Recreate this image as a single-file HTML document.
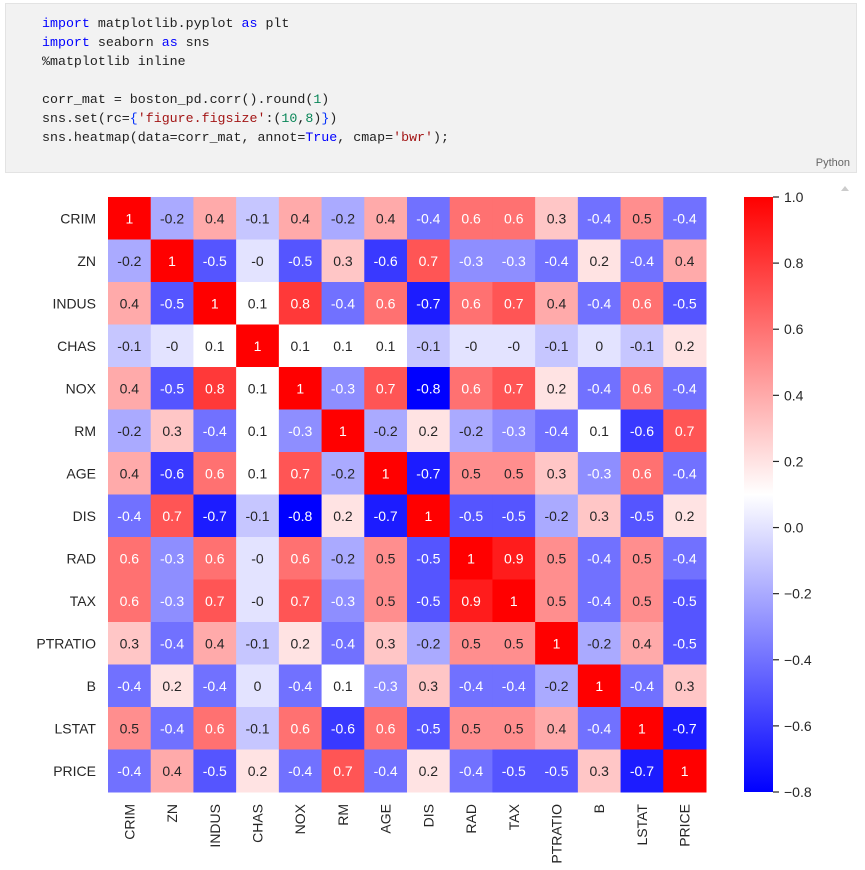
<!DOCTYPE html>
<html><head><meta charset="utf-8"><style>
body{margin:0;width:865px;height:870px;background:#fff;overflow:hidden;font-family:"Liberation Sans",sans-serif}
.code{position:absolute;left:5px;top:3px;width:852px;height:170px;background:#f2f2f2;border:1px solid #e3e3e3;box-sizing:border-box}
pre{position:absolute;left:36px;top:10px;margin:0;font-family:"Liberation Mono",monospace;font-size:13.3px;line-height:19px;color:#222}
.k{color:#0000ff}.s{color:#a31515}.n{color:#098658}.b{color:#0431fa}
.py{position:absolute;right:6px;bottom:3px;font-size:11px;color:#666}
</style></head><body>
<div class="code">
<pre><span class="k">import</span> matplotlib.pyplot <span class="k">as</span> plt
<span class="k">import</span> seaborn <span class="k">as</span> sns
%matplotlib inline

corr_mat = boston_pd.corr().round(<span class="n">1</span>)
sns.set(rc=<span class="b">{</span><span class="s">'figure.figsize'</span>:(<span class="n">10</span>,<span class="n">8</span>)<span class="b">}</span>)
sns.heatmap(data=corr_mat, annot=<span class="k">True</span>, cmap=<span class="s">'bwr'</span>);</pre>
<div class="py">Python</div>
</div>
<svg id="chart" width="865" height="870" style="position:absolute;left:0;top:0">
<defs><linearGradient id="cb" x1="0" y1="1" x2="0" y2="0">
<stop offset="0" stop-color="#0000ff"/><stop offset="0.5" stop-color="#ffffff"/><stop offset="1" stop-color="#ff0000"/></linearGradient></defs>
<polygon points="841,191 845,186 849,191" fill="#ccc"/>
</svg>
<script>
const labels=["CRIM","ZN","INDUS","CHAS","NOX","RM","AGE","DIS","RAD","TAX","PTRATIO","B","LSTAT","PRICE"];
const r0=[1,-0.2,0.4,-0.1,0.4,-0.2,0.4,-0.4,0.6,0.6,0.3,-0.4,0.5,-0.4];
const r1=[-0.2,1,-0.5,-0,-0.5,0.3,-0.6,0.7,-0.3,-0.3,-0.4,0.2,-0.4,0.4];
const r2=[0.4,-0.5,1,0.1,0.8,-0.4,0.6,-0.7,0.6,0.7,0.4,-0.4,0.6,-0.5];
const r3=[-0.1,-0,0.1,1,0.1,0.1,0.1,-0.1,-0,-0,-0.1,0,-0.1,0.2];
const r4=[0.4,-0.5,0.8,0.1,1,-0.3,0.7,-0.8,0.6,0.7,0.2,-0.4,0.6,-0.4];
const r5=[-0.2,0.3,-0.4,0.1,-0.3,1,-0.2,0.2,-0.2,-0.3,-0.4,0.1,-0.6,0.7];
const r6=[0.4,-0.6,0.6,0.1,0.7,-0.2,1,-0.7,0.5,0.5,0.3,-0.3,0.6,-0.4];
const r7=[-0.4,0.7,-0.7,-0.1,-0.8,0.2,-0.7,1,-0.5,-0.5,-0.2,0.3,-0.5,0.2];
const r8=[0.6,-0.3,0.6,-0,0.6,-0.2,0.5,-0.5,1,0.9,0.5,-0.4,0.5,-0.4];
const r9=[0.6,-0.3,0.7,-0,0.7,-0.3,0.5,-0.5,0.9,1,0.5,-0.4,0.5,-0.5];
const r10=[0.3,-0.4,0.4,-0.1,0.2,-0.4,0.3,-0.2,0.5,0.5,1,-0.2,0.4,-0.5];
const r11=[-0.4,0.2,-0.4,0,-0.4,0.1,-0.3,0.3,-0.4,-0.4,-0.2,1,-0.4,0.3];
const r12=[0.5,-0.4,0.6,-0.1,0.6,-0.6,0.6,-0.5,0.5,0.5,0.4,-0.4,1,-0.7];
const r13=[-0.4,0.4,-0.5,0.2,-0.4,0.7,-0.4,0.2,-0.4,-0.5,-0.5,0.3,-0.7,1];
const rows=[r0,r1,r2,r3,r4,r5,r6,r7,r8,r9,r10,r11,r12,r13];
const cbTicks=[1.0,0.8,0.6,0.4,0.2,0.0,-0.2,-0.4,-0.6,-0.8];
const vmin=-0.8,vmax=1.0;
const X0=108,X1=706,Y0=197,Y1=792;
const svg=document.getElementById('chart');
const NS='http://www.w3.org/2000/svg';
const n=labels.length,cw=(X1-X0)/n,ch=(Y1-Y0)/n;
const xs=i=>X0+i*cw, ys=j=>Y0+j*ch;
const cy=v=>Y1-(v-vmin)/(vmax-vmin)*(Y1-Y0);
function color(v){let t=(v-vmin)/(vmax-vmin);let r,g,b;
 if(t<0.5){r=g=t*2;b=1}else{r=1;g=b=(1-t)*2}
 return [r,g,b];}
const lin=c=>c<=0.03928?c/12.92:Math.pow((c+0.055)/1.055,2.4);
function mk(tag,attrs){const e=document.createElementNS(NS,tag);for(const k in attrs)e.setAttribute(k,attrs[k]);svg.appendChild(e);return e;}
rows.forEach((row,j)=>row.forEach((v,i)=>{
 const c=color(v);
 const rect=mk('rect',{x:xs(i),y:ys(j),width:cw+0.5,height:ch+0.5,fill:`rgb(${c.map(q=>Math.round(q*255)).join(',')})`});
 
 
 const lum=0.2126*lin(c[0])+0.7152*lin(c[1])+0.0722*lin(c[2]);
 const t=mk('text',{x:xs(i)+cw/2,y:ys(j)+ch/2+5,'text-anchor':'middle','font-size':14,fill:lum>0.408?'#262626':'#ffffff'});
 t.textContent=(Object.is(v,-0)?'-0':String(v));
 
 
}));
labels.forEach((l,j)=>{
 const t=mk('text',{x:X0-12,y:ys(j)+ch/2+5,'text-anchor':'end','font-size':14,fill:'#262626'});t.textContent=l;
 
 
 const u=mk('text',{transform:`translate(${xs(j)+cw/2+5},${Y1+12}) rotate(-90)`,'text-anchor':'end','font-size':14,fill:'#262626'});u.textContent=l;
 
 
});
const cb=mk('rect',{x:744,y:Y0,width:29,height:Y1-Y0,fill:'url(#cb)'});


cbTicks.forEach(v=>{
 const y=cy(v);
 mk('line',{x1:773,x2:779,y1:y,y2:y,stroke:'#262626','stroke-width':1.2});
 const t=mk('text',{x:784,y:y+5,'font-size':14,fill:'#262626'});
 t.textContent=(v<0?'\u2212':'')+Math.abs(v).toFixed(1);
 
 
});
</script>
</body></html>
